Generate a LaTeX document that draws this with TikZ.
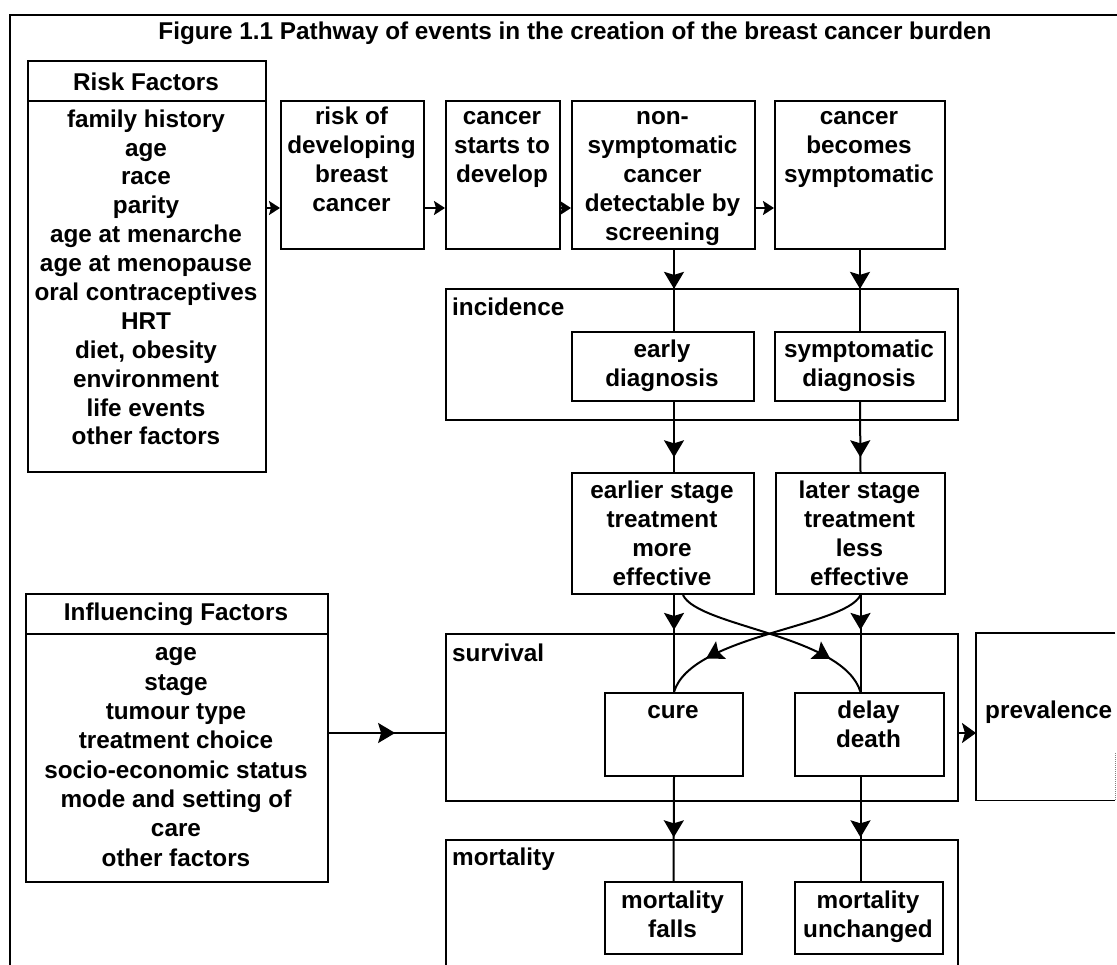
\documentclass[tikz,border=0pt]{standalone}
\usepackage{fontspec}
\setmainfont{Liberation Sans}
\usetikzlibrary{arrows.meta,decorations.markings,calc}

\begin{document}
\begin{tikzpicture}[x=1pt,y=-1pt,
  every node/.style={font=\bfseries\fontsize{24.3}{29}\selectfont, inner sep=0pt},
  box/.style={draw, line width=2pt, anchor=north west},
  wire/.style={line width=2pt},
  txt/.style={anchor=base, align=center},
  lbl/.style={anchor=base west},
  tipat/.style={postaction={decorate}, decoration={markings,
      mark=at position #1 with {\arrow{Stealth[length=17pt,width=20pt,inset=3pt]}}}},
  smalltip/.style={-{Stealth[length=11pt,width=14pt,inset=2pt]}},
  endtip/.style={-{Stealth[length=14pt,width=20pt,inset=3pt]}},
]
\path[use as bounding box, clip] (0,0) rectangle (1117,965);

% outer frame (runs off the page to the right and bottom)
\draw[line width=2pt] (10,1000) -- (10,15) -- (1130,15);

% multi-line texts are placed by the baseline of their last line
\node[txt] (title) at (575,40) {Figure 1.1 Pathway of events in the creation of the breast cancer burden};

% risk factors
\node[box, minimum width=238pt, minimum height=40pt] (riskhd) at (27,60) {};
\node[box, minimum width=238pt, minimum height=371pt] (riskls) at (27,100) {};
\node[txt] (riskhdt) at (146,91) {Risk Factors};
\node[txt, font=\bfseries\fontsize{24.3}{28.9}\selectfont] (risklst) at (146,445) {family history\\age\\race\\parity\\age at menarche\\age at menopause\\oral contraceptives\\HRT\\diet, obesity\\environment\\life events\\other factors};

% top row
\node[box, minimum width=143pt, minimum height=148pt] (riskdev) at (280,100) {};
\node[box, minimum width=114pt, minimum height=148pt] (starts) at (445,100) {};
\node[box, minimum width=183pt, minimum height=148pt] (nonsymp) at (571,100) {};
\node[box, minimum width=170pt, minimum height=148pt] (becomes) at (774,100) {};
\node[txt] (riskdevt) at (351.5,212) {risk of\\developing\\breast\\cancer};
\node[txt] (startst) at (502,183) {cancer\\starts to\\develop};
\node[txt] (nonsympt) at (662.5,241) {non-\\symptomatic\\cancer\\detectable by\\screening};
\node[txt] (becomest) at (859,183) {cancer\\becomes\\symptomatic};

% incidence
\node[box, minimum width=512pt, minimum height=131pt] (incid) at (445,288) {};
\node[lbl] (incidt) at (452,316) {incidence};
\node[box, minimum width=182pt, minimum height=69pt] (early) at (571,331) {};
\node[box, minimum width=170pt, minimum height=69pt] (sympd) at (774,331) {};
\node[txt] (earlyt) at (662,387) {early\\diagnosis};
\node[txt] (sympdt) at (859,387) {symptomatic\\diagnosis};

% treatment
\node[box, minimum width=182pt, minimum height=121pt] (earlier) at (571,472) {};
\node[box, minimum width=169pt, minimum height=121pt] (later) at (775,472) {};
\node[txt] (earliert) at (662,585) {earlier stage\\treatment\\more\\effective};
\node[txt] (latert) at (859.5,585) {later stage\\treatment\\less\\effective};

% influencing factors
\node[box, minimum width=302pt, minimum height=40pt] (infhd) at (25,593) {};
\node[box, minimum width=302pt, minimum height=248pt] (infls) at (25,633) {};
\node[txt] (infhdt) at (176,620) {Influencing Factors};
\node[txt, font=\bfseries\fontsize{24.3}{29.3}\selectfont] (inflst) at (176,866) {age\\stage\\tumour type\\treatment choice\\socio-economic status\\mode and setting of\\care\\other factors};

% survival
\node[box, minimum width=512pt, minimum height=167pt] (surv) at (445,633) {};
\node[lbl] (survt) at (452,661) {survival};
\node[box, minimum width=138pt, minimum height=83pt] (cure) at (604,692) {};
\node[box, minimum width=149pt, minimum height=83pt] (delay) at (794,692) {};
\node[txt] (curet) at (673,718) {cure};
\node[txt] (delayt) at (868.5,747) {delay\\death};

% prevalence (right side runs off the page)
\node[anchor=north west, minimum width=139pt, minimum height=167pt] (prev) at (976,633) {};
\draw[line width=1.6pt] (prev.north east) -- (prev.north west) -- (prev.south west) -- (prev.south east);
\draw[gray, densely dotted, line width=1pt] ($(prev.south east)+(0,-47)$) -- (prev.south east);
\node[lbl] (prevt) at (985,718) {prevalence};

% mortality
\node[box, minimum width=512pt, minimum height=200pt] (mort) at (445,839) {};
\node[lbl] (mortt) at (452,865) {mortality};
\node[box, minimum width=137pt, minimum height=72pt] (mfalls) at (604,881) {};
\node[box, minimum width=148pt, minimum height=72pt] (munch) at (794,881) {};
\node[txt] (mfallst) at (672.5,937) {mortality\\falls};
\node[txt] (muncht) at (868,937) {mortality\\unchanged};

% connectors
\coordinate (toprow) at (0,208);
\coordinate (row) at (0,733);
\draw[wire, smalltip] (riskls.east |- toprow) -- (riskdev.west |- toprow);
\draw[wire, smalltip] (riskdev.east |- toprow) -- (starts.west |- toprow);
\draw[wire, smalltip] (starts.east |- toprow) -- (nonsymp.west |- toprow);
\draw[wire, smalltip] (nonsymp.east |- toprow) -- (becomes.west |- toprow);

\draw[wire, tipat=0.48] (nonsymp.south -| cure.north) -- (early.north -| cure.north);
\draw[wire, tipat=0.48] (becomes.south) -- (sympd.north);
\draw[wire, tipat=0.79] (early.south -| cure.north) -- (earlier.north -| cure.north);
\draw[wire, tipat=0.79] (sympd.south) -- (later.north);
\draw[wire, tipat=0.36] (earlier.south -| cure.north) -- (cure.north);
\draw[wire, tipat=0.36] (later.south) -- (later.south |- delay.north);
\draw[wire, tipat=0.58] (cure.south) -- (mfalls.north);
\draw[wire, tipat=0.58] (later.south |- delay.south) -- (later.south |- munch.north);

\draw[wire, tipat=0.78] ($(earlier.south)+(20,0)$)
  .. controls ($(earlier.south)+(35,32)$) and ($(later.south |- delay.north)+(-17,-57)$)
  .. (later.south |- delay.north);
\draw[wire, tipat=0.78] (later.south)
  .. controls ($(later.south)+(-15,32)$) and ($(cure.north)+(17,-57)$)
  .. (cure.north);

\draw[wire, tipat=0.57] (infls.east |- row) -- (surv.west |- row);
\draw[wire, endtip] (surv.east |- row) -- (prev.west |- row);
\end{tikzpicture}
\end{document}
